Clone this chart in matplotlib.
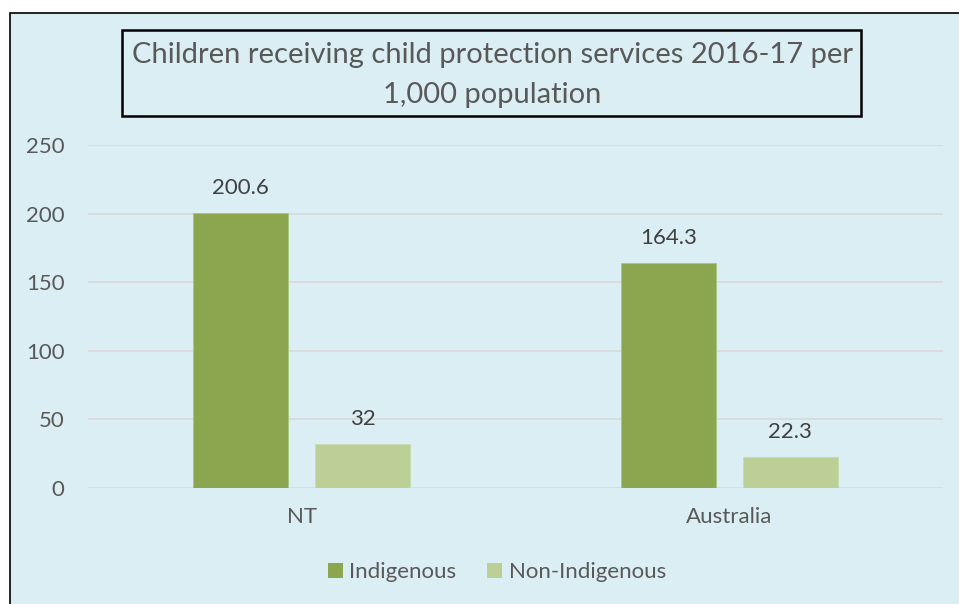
import numpy as np
import matplotlib.pyplot as plt
from matplotlib.patches import Rectangle, Patch

# chart data
regions = ['NT', 'Australia']
indigenous = [200.6, 164.3]
non_indigenous = [32, 22.3]
ind_labels = ['200.6', '164.3']
non_labels = ['32', '22.3']
y_ticks = [0, 50, 100, 150, 200, 250]

# colours
bg = '#DBEEF3'
c_ind = '#8BA64F'
c_non = '#BBCF96'
txt = '#595959'

plt.rcParams['font.family'] = ['Lato', 'DejaVu Sans']

fig = plt.figure(figsize=(9.59, 6.04), dpi=100)
fig.patch.set_facecolor('white')

# chart area with black border
fig.add_artist(Rectangle((10 / 959, -0.05), 1.0, 1 - 13 / 604 + 0.05,
                         transform=fig.transFigure, facecolor=bg,
                         edgecolor='black', linewidth=1.2, zorder=0))

# title box
fig.add_artist(Rectangle((122 / 959, 1 - 116 / 604), 739 / 959, 86 / 604,
                         transform=fig.transFigure, facecolor='none',
                         edgecolor='black', linewidth=1.8, zorder=2))
fig.text(492 / 959, 1 - 55 / 604, 'Children receiving child protection services 2016-17 per',
         ha='center', va='center', fontsize=21, color=txt)
fig.text(492 / 959, 1 - 95 / 604, '1,000 population',
         ha='center', va='center', fontsize=21, color=txt)

# axes
ax = fig.add_axes([88 / 959, 1 - 488 / 604, 855 / 959, 343 / 604])
ax.set_facecolor('none')

x = np.arange(len(regions))
w = 0.222
off = 0.1425
b1 = ax.bar(x - off, indigenous, w, color=c_ind, edgecolor='#A9C47F', linewidth=0.6, zorder=3)
b2 = ax.bar(x + off, non_indigenous, w, color=c_non, edgecolor='#C9DBAE', linewidth=0.6, zorder=3)

# data labels
for rect, lab in zip(b1, ind_labels):
    ax.annotate(lab, (rect.get_x() + rect.get_width() / 2, rect.get_height()),
                xytext=(0, 18), textcoords='offset points', ha='center', va='center',
                fontsize=16, color='#404040')
for rect, lab in zip(b2, non_labels):
    ax.annotate(lab, (rect.get_x() + rect.get_width() / 2, rect.get_height()),
                xytext=(0, 18), textcoords='offset points', ha='center', va='center',
                fontsize=16, color='#404040')

ax.set_xlim(-0.5, 1.5)
ax.set_ylim(0, 250)
ax.set_yticks(y_ticks)
ax.set_xticks(x)
ax.set_xticklabels(regions)
ax.yaxis.grid(True, color='#D9D9D9', linewidth=1.2, zorder=0)
ax.set_axisbelow(True)
for s in ax.spines.values():
    s.set_visible(False)
ax.tick_params(axis='both', length=0, labelsize=16, colors=txt)
ax.tick_params(axis='y', pad=17)
ax.tick_params(axis='x', pad=14)
for lbl in ax.get_yticklabels():
    lbl.set_horizontalalignment('right')

# legend
handles = [Patch(facecolor=c_ind, label='Indigenous'),
           Patch(facecolor=c_non, label='Non-Indigenous')]
leg = fig.legend(handles=handles, loc='center', bbox_to_anchor=(497 / 959, 1 - 572 / 604),
                 ncol=2, frameon=False, fontsize=16, handlelength=0.65, handleheight=0.65,
                 handletextpad=0.3, columnspacing=1.4)
for t in leg.get_texts():
    t.set_color(txt)

fig.savefig('out.png', dpi=100, facecolor='white')
